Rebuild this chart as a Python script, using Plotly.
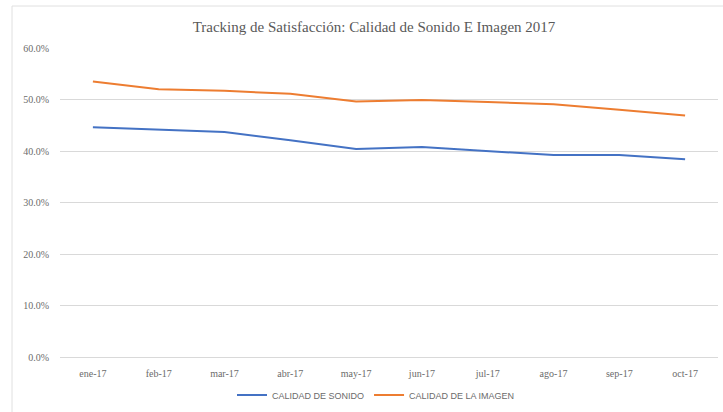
import plotly.graph_objects as go

months = ["ene-17", "feb-17", "mar-17", "abr-17", "may-17", "jun-17", "jul-17", "ago-17", "sep-17", "oct-17"]
sonido = [0.446, 0.442, 0.437, 0.421, 0.404, 0.408, 0.400, 0.392, 0.392, 0.384]
imagen = [0.535, 0.520, 0.517, 0.511, 0.496, 0.499, 0.495, 0.491, 0.480, 0.469]
y_ticks = [0, 0.1, 0.2, 0.3, 0.4, 0.5, 0.6]

fig = go.Figure()
fig.add_trace(go.Scatter(x=months, y=sonido, mode="lines", name="CALIDAD DE SONIDO",
                         line=dict(color="#4472C4", width=2)))
fig.add_trace(go.Scatter(x=months, y=imagen, mode="lines", name="CALIDAD DE LA IMAGEN",
                         line=dict(color="#ED7D31", width=2)))

fig.update_layout(
    width=723, height=412,
    margin=dict(l=60, r=5, t=48, b=55, autoexpand=False),
    paper_bgcolor="white", plot_bgcolor="white",
    title=dict(text="Tracking de Satisfacción: Calidad de Sonido E Imagen 2017",
               x=374 / 723, xanchor="center", y=1 - 27 / 412, yanchor="middle",
               font=dict(family="Liberation Serif", size=15, color="#595959")),
    showlegend=True,
    legend=dict(orientation="h", xref="container", yref="container",
                x=376 / 723, xanchor="center", y=1 - 395 / 412, yanchor="middle",
                font=dict(family="Liberation Sans", size=9, color="#6b6b6b"),
                itemwidth=30, tracegroupgap=0),
    xaxis=dict(type="category", range=[-0.5, 9.5], showgrid=False, showline=True,
               linecolor="#D9D9D9", ticks="",
               tickfont=dict(family="Liberation Serif", size=10, color="#6b6b6b"),
               ticklabelstandoff=7),
    yaxis=dict(range=[0, 0.6], tickvals=y_ticks, tickformat=".1%", showgrid=True,
               gridcolor="#D9D9D9", gridwidth=1, zeroline=False, showline=False,
               ticks="", ticklabelstandoff=10,
               tickfont=dict(family="Liberation Serif", size=10, color="#6b6b6b")),
    shapes=[
        dict(type="line", xref="paper", yref="paper", x0=-48 / 658, x1=-48 / 658,
             y0=-55 / 309, y1=(309 + 42) / 309, line=dict(color="#E0E0E0", width=1)),
        dict(type="line", xref="paper", yref="paper", x0=-48 / 658, x1=1.01,
             y0=(309 + 42) / 309, y1=(309 + 42) / 309, line=dict(color="#E0E0E0", width=1)),
    ],
)

fig.write_html("out.html")
